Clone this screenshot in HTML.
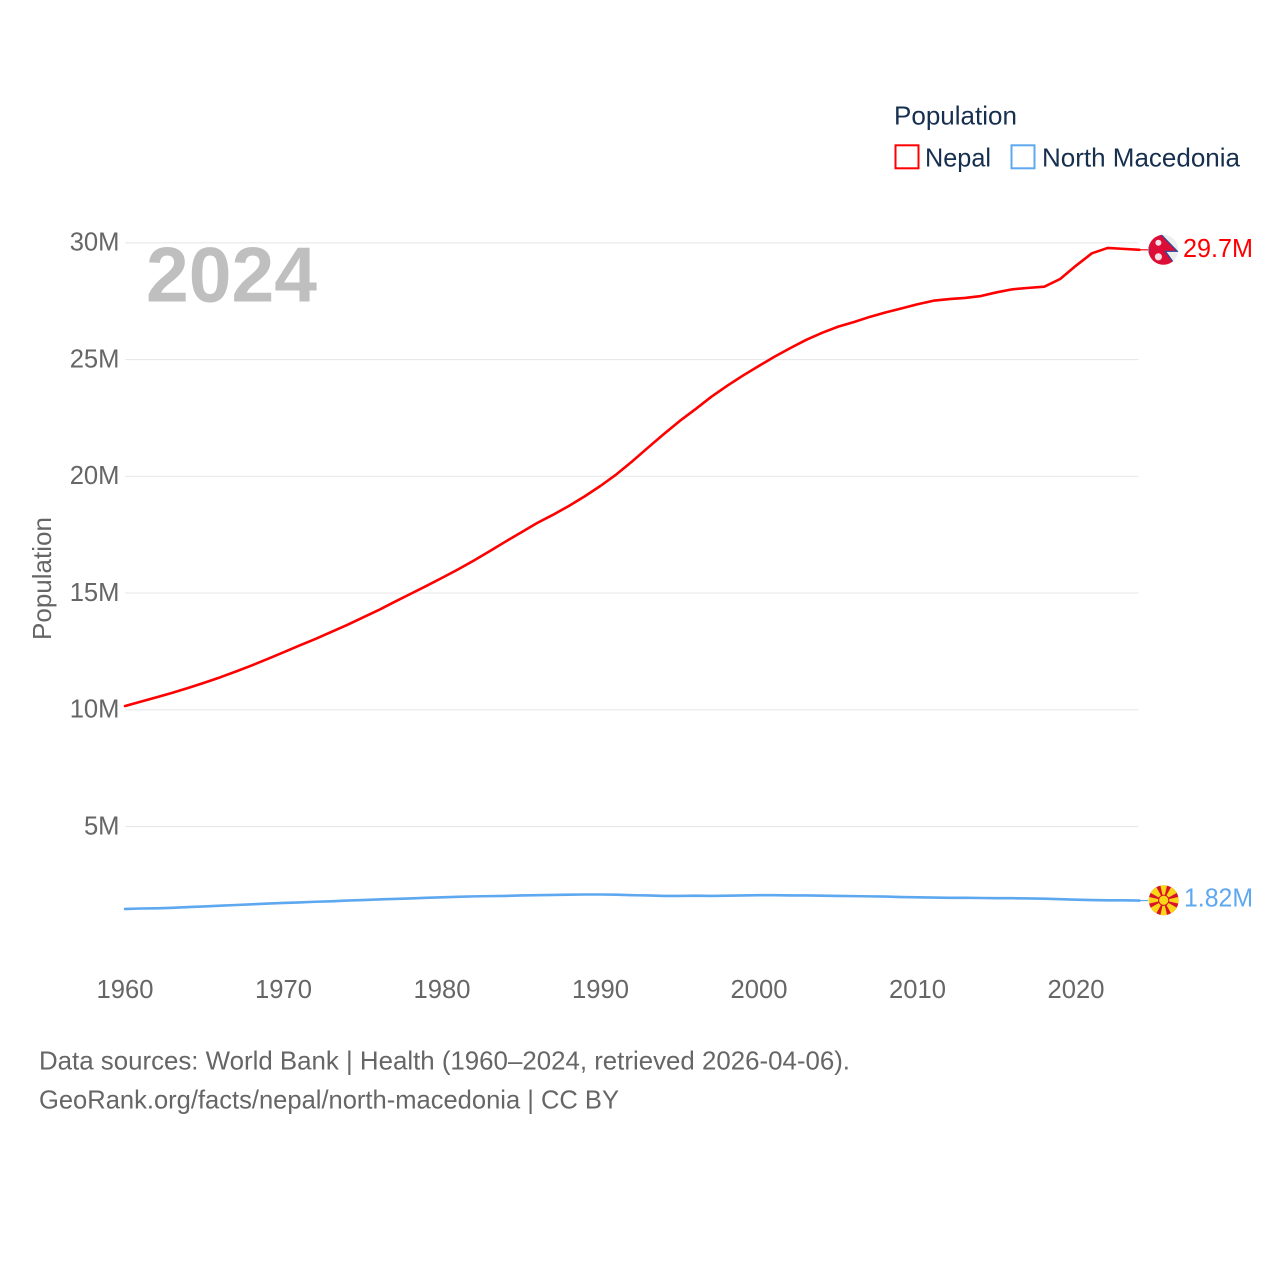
<!DOCTYPE html>
<html lang="en">
<head>
<meta charset="utf-8">
<title>Population: Nepal and North Macedonia</title>
<style>
html,body{margin:0;padding:0;background:#fff;}
svg{display:block;}
text{font-family:"Liberation Sans",sans-serif;}
</style>
</head>
<body>
<svg id="chart" xmlns="http://www.w3.org/2000/svg" width="1280" height="1280" viewBox="0 0 1280 1280">
  <defs>
    <clipPath id="flag-clip"><circle cx="0" cy="0" r="15"/></clipPath>
  </defs>
  <rect x="0" y="0" width="1280" height="1280" fill="#fff"/>
  <g id="grid"></g>
  <g id="y-ticks"></g>
  <g id="x-ticks"></g>
  <text transform="translate(51,640) rotate(-90)" font-size="25.6" fill="#666" textLength="123" lengthAdjust="spacingAndGlyphs">Population</text>
  <text x="146" y="301.5" font-size="78" font-weight="700" fill="#bfbfbf" textLength="171" lengthAdjust="spacingAndGlyphs">2024</text>

  <g>
    <text x="894" y="124.5" font-size="25.6" fill="#162f4f" textLength="123" lengthAdjust="spacingAndGlyphs">Population</text>
    <g>
      <rect x="895.5" y="145.3" width="23" height="23" fill="none" stroke="#ff0000" stroke-width="2"/>
      <text x="925" y="166.5" font-size="25.6" fill="#162f4f" textLength="66" lengthAdjust="spacingAndGlyphs">Nepal</text>
    </g>
    <g>
      <rect x="1011.5" y="145.3" width="23" height="23" fill="none" stroke="#5ea8f0" stroke-width="2"/>
      <text x="1042" y="166.5" font-size="25.6" fill="#162f4f" textLength="198" lengthAdjust="spacingAndGlyphs">North Macedonia</text>
    </g>
  </g>

  <g id="series"></g>

  <g id="flag-nepal">
    <g clip-path="url(#flag-clip)">
      <rect x="-15" y="-15" width="30" height="30" fill="#eeeeee"/>
      <polygon points="-15,-16 -3,-16 14,1.5 2,1.5 11,14 11,16 -15,16" fill="#dc0d37" stroke="#1f4a9c" stroke-width="1.2"/>
      <circle cx="-5" cy="-7" r="3" fill="#f6dfe3"/>
      <circle cx="-5" cy="7" r="3.6" fill="#f6dfe3"/>
    </g>
  </g>
  <g id="flag-macedonia">
    <g clip-path="url(#flag-clip)">
      <rect x="-15" y="-15" width="30" height="30" fill="#d8122a"/>
      <polygon points="-3.6,-16 3.6,-16 0,0" fill="#f9d616"/>
      <polygon points="-3.6,16 3.6,16 0,0" fill="#f9d616"/>
      <polygon points="-16,-3.6 -16,3.6 0,0" fill="#f9d616"/>
      <polygon points="16,-3.6 16,3.6 0,0" fill="#f9d616"/>
      <polygon points="-16,-9 -9,-16 0,0" fill="#f9d616"/>
      <polygon points="16,-9 9,-16 0,0" fill="#f9d616"/>
      <polygon points="-16,9 -9,16 0,0" fill="#f9d616"/>
      <polygon points="16,9 9,16 0,0" fill="#f9d616"/>
      <circle cx="0" cy="0" r="5.6" fill="#d8122a"/>
      <circle cx="0" cy="0" r="4.6" fill="#f9d616"/>
    </g>
  </g>
  <g id="end-labels"></g>

  <text x="39" y="1069.5" font-size="25.6" fill="#666" textLength="811" lengthAdjust="spacingAndGlyphs">Data sources: World Bank | Health (1960–2024, retrieved 2026-04-06).</text>
  <text x="39" y="1108.5" font-size="25.6" fill="#666" textLength="580" lengthAdjust="spacingAndGlyphs">GeoRank.org/facts/nepal/north-macedonia | CC BY</text>
</svg>
<script>
const startYear = 1960;
const xTickYears = [1960, 1970, 1980, 1990, 2000, 2010, 2020];
const yTickValues = [5, 10, 15, 20, 25, 30];
const yTickLabels = ['5M', '10M', '15M', '20M', '25M', '30M'];
const nepalValues = [10.16,10.35,10.54,10.73,10.94,11.16,11.39,11.64,11.90,12.18,12.46,12.75,13.03,13.33,13.63,13.95,14.27,14.62,14.96,15.30,15.65,16.01,16.39,16.79,17.20,17.60,18.00,18.35,18.73,19.14,19.59,20.08,20.64,21.23,21.81,22.37,22.88,23.41,23.88,24.32,24.73,25.13,25.50,25.85,26.15,26.41,26.61,26.83,27.02,27.19,27.37,27.52,27.59,27.64,27.72,27.88,28.01,28.07,28.12,28.45,29.02,29.55,29.78,29.74,29.70];
const macedoniaValues = [1.47,1.49,1.50,1.52,1.55,1.58,1.61,1.64,1.67,1.70,1.73,1.75,1.78,1.80,1.83,1.85,1.88,1.90,1.92,1.95,1.97,1.99,2.01,2.02,2.03,2.05,2.06,2.07,2.08,2.09,2.09,2.08,2.06,2.05,2.03,2.03,2.04,2.03,2.04,2.05,2.06,2.06,2.05,2.05,2.04,2.03,2.02,2.01,2.00,1.98,1.97,1.96,1.95,1.95,1.94,1.93,1.93,1.92,1.91,1.89,1.87,1.85,1.84,1.84,1.83];
const endLabels = ['29.7M', '1.82M'];

const NS = 'http://www.w3.org/2000/svg';
function xScale(year) { return 125 + (year - 1960) * 15.85; }
function yScale(value) { return 943.3 - value * 23.35; }
function make(tag, parentId, attrs, content) {
  const el = document.createElementNS(NS, tag);
  Object.keys(attrs).forEach(function (k) { el.setAttribute(k, attrs[k]); });
  if (content !== undefined) el.textContent = content;
  document.getElementById(parentId).appendChild(el);
  return el;
}

yTickValues.forEach(function (v, i) {
  const line = make('line', 'grid', { x1: 125, x2: 1138.5, y1: yScale(v), y2: yScale(v), stroke: '#e9e9e9', 'stroke-width': 1.2 });
  
  
  const label = make('text', 'y-ticks', { x: 119.5, y: yScale(v) + 7.8, 'text-anchor': 'end', 'font-size': 25.6, fill: '#666' }, yTickLabels[i]);
  
  
});

xTickYears.forEach(function (year) {
  const label = make('text', 'x-ticks', { x: xScale(year), y: 998, 'text-anchor': 'middle', 'font-size': 25.6, fill: '#666' }, String(year));
  
  
});

function pathFor(values) {
  return values.map(function (v, i) {
    return (i ? 'L' : 'M') + xScale(startYear + i).toFixed(2) + ' ' + yScale(v).toFixed(2);
  }).join(' ');
}
function drawSeries(values, color, lineName, connectorName) {
  const lastX = xScale(startYear + values.length - 1);
  const lastY = yScale(values[values.length - 1]);
  const path = make('path', 'series', { d: pathFor(values), fill: 'none', stroke: color, 'stroke-width': 2.6, 'stroke-linejoin': 'round', 'stroke-linecap': 'round' });
  
  
  const connector = make('line', 'series', { x1: lastX, x2: 1148, y1: lastY, y2: lastY, stroke: color, 'stroke-width': 1.2 });
  
  
}
drawSeries(nepalValues, '#ff0000', 'line-nepal', 'connector-nepal');
drawSeries(macedoniaValues, '#5ea8f0', 'line-north-macedonia', 'connector-north-macedonia');

const nepalEndY = yScale(nepalValues[nepalValues.length - 1]);
const macedoniaEndY = yScale(macedoniaValues[macedoniaValues.length - 1]);
document.getElementById('flag-nepal').setAttribute('transform', 'translate(1163.4,' + nepalEndY + ')');
document.getElementById('flag-macedonia').setAttribute('transform', 'translate(1163.7,' + (macedoniaEndY - 0.3) + ')');

const nepalLabel = make('text', 'end-labels', { x: 1183, y: nepalEndY + 7, 'font-size': 25.6, fill: '#ff0000', textLength: 70, lengthAdjust: 'spacingAndGlyphs' }, endLabels[0]);


const macedoniaLabel = make('text', 'end-labels', { x: 1184, y: macedoniaEndY + 5.7, 'font-size': 25.6, fill: '#5ea8f0', textLength: 69, lengthAdjust: 'spacingAndGlyphs' }, endLabels[1]);


</script>
</body>
</html>
